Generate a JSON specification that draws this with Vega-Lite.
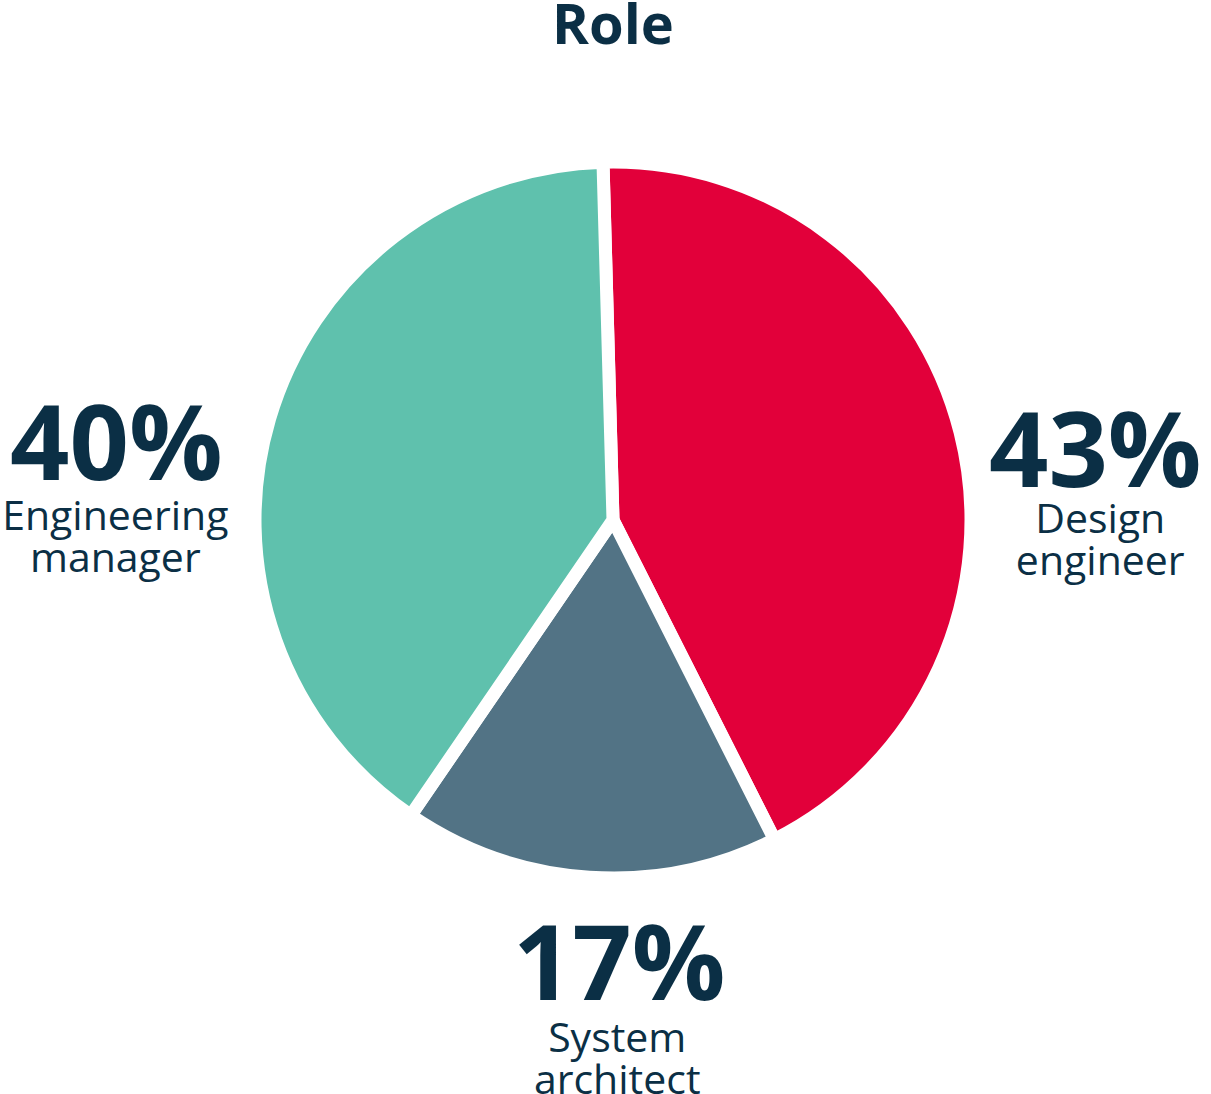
{
  "$schema": "https://vega.github.io/schema/vega-lite/v6.json",
  "width": 1196,
  "height": 920,
  "padding": {"left": 15, "top": 60, "right": 0, "bottom": 114},
  "autosize": "none",
  "background": "white",
  "title": {"text": "Role", "font": "Open Sans", "fontSize": 56, "fontWeight": "bold", "color": "#0B2F45", "anchor": "middle", "frame": "group", "offset": 4},
  "data": {"values": [
    {"role": "Design engineer", "share": 0.43, "seq": 1},
    {"role": "System architect", "share": 0.17, "seq": 2},
    {"role": "Engineering manager", "share": 0.40, "seq": 3}
  ]},
  "encoding": {
    "theta": {"field": "share", "type": "quantitative", "stack": true, "scale": {"range": [-0.028, 6.2552]}},
    "order": {"field": "seq", "type": "quantitative"}
  },
  "layer": [
    {
      "mark": {"type": "arc", "outerRadius": 358, "stroke": "white", "strokeWidth": 13},
      "encoding": {
        "color": {"field": "role", "type": "nominal", "legend": null,
          "scale": {"domain": ["Design engineer", "System architect", "Engineering manager"], "range": ["#E2003A", "#527385", "#5FC1AD"]}}
      }
    },
    {
      "mark": {"type": "text", "radius": 483, "dx": 14, "dy": 86, "font": "Open Sans", "fontSize": 104, "fontWeight": "bold", "color": "#0B2F45", "align": "center", "baseline": "alphabetic"},
      "encoding": {"text": {"condition": {"test": "datum.role === 'Design engineer'", "field": "share", "format": ".0%"}, "value": ""}}
    },
    {
      "mark": {"type": "text", "radius": 480, "dx": 38, "dy": 1, "font": "Open Sans", "fontSize": 104, "fontWeight": "bold", "color": "#0B2F45", "align": "center", "baseline": "alphabetic"},
      "encoding": {"text": {"condition": {"test": "datum.role === 'System architect'", "field": "share", "format": ".0%"}, "value": ""}}
    },
    {
      "mark": {"type": "text", "radius": 499, "dx": -18, "dy": 101, "font": "Open Sans", "fontSize": 104, "fontWeight": "bold", "color": "#0B2F45", "align": "center", "baseline": "alphabetic"},
      "encoding": {"text": {"condition": {"test": "datum.role === 'Engineering manager'", "field": "share", "format": ".0%"}, "value": ""}}
    },
    {
      "mark": {"type": "text", "radius": 483, "dx": 19, "dy": 132, "font": "Open Sans", "fontSize": 41, "color": "#0B2F45", "align": "center", "baseline": "alphabetic", "lineBreak": " ", "lineHeight": 42},
      "encoding": {"text": {"condition": {"test": "datum.role === 'Design engineer'", "field": "role"}, "value": ""}}
    },
    {
      "mark": {"type": "text", "radius": 480, "dx": 36, "dy": 53, "font": "Open Sans", "fontSize": 41, "color": "#0B2F45", "align": "center", "baseline": "alphabetic", "lineBreak": " ", "lineHeight": 42},
      "encoding": {"text": {"condition": {"test": "datum.role === 'System architect'", "field": "role"}, "value": ""}}
    },
    {
      "mark": {"type": "text", "radius": 499, "dx": -19, "dy": 151, "font": "Open Sans", "fontSize": 41, "color": "#0B2F45", "align": "center", "baseline": "alphabetic", "lineBreak": " ", "lineHeight": 42},
      "encoding": {"text": {"condition": {"test": "datum.role === 'Engineering manager'", "field": "role"}, "value": ""}}
    }
  ],
  "config": {"view": {"stroke": null}}
}
